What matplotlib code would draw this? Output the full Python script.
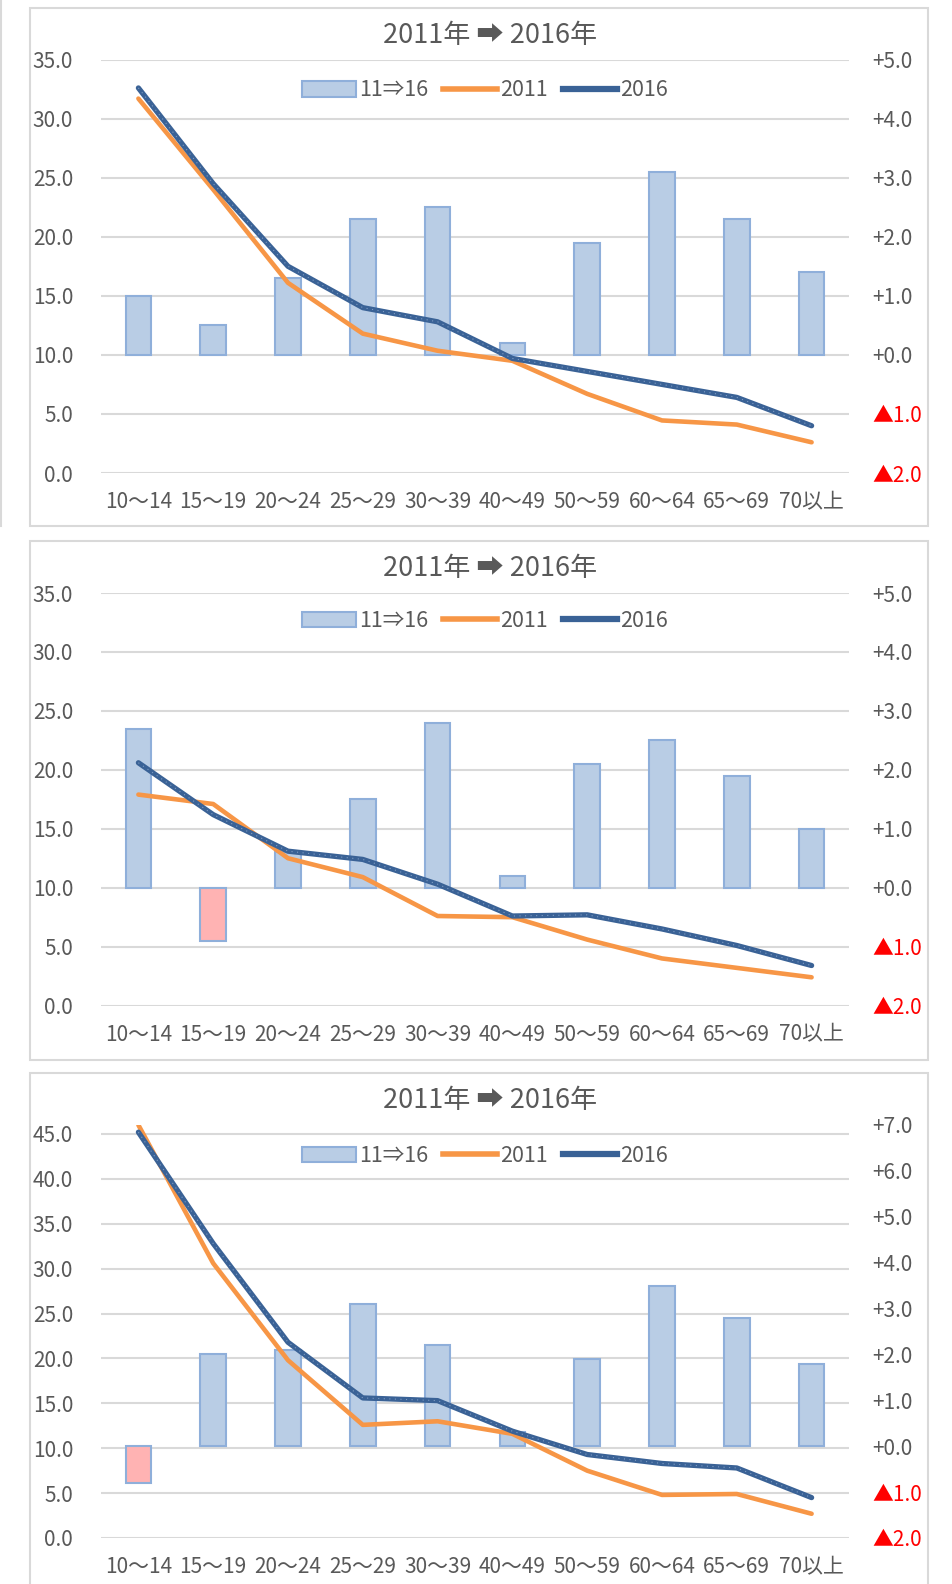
import numpy as np
import matplotlib
matplotlib.use('Agg')
import matplotlib.pyplot as plt
from matplotlib.lines import Line2D
from matplotlib.patches import Rectangle

plt.rcParams['font.family'] = ['Noto Sans CJK JP', 'DejaVu Sans']

W, H = 953, 1584

ages = ['10〜14', '15〜19', '20〜24', '25〜29', '30〜39', '40〜49', '50〜59', '60〜64', '65〜69', '70以上']

# panel 1
p1_2011 = [31.7, 24.0, 16.1, 11.8, 10.35, 9.5, 6.7, 4.45, 4.1, 2.6]
p1_2016 = [32.6, 24.5, 17.5, 14.0, 12.8, 9.7, 8.6, 7.5, 6.4, 4.0]
p1_diff = [1.0, 0.5, 1.3, 2.3, 2.5, 0.2, 1.9, 3.1, 2.3, 1.4]

# panel 2
p2_2011 = [17.9, 17.1, 12.5, 10.9, 7.6, 7.5, 5.6, 4.0, 3.2, 2.4]
p2_2016 = [20.6, 16.2, 13.1, 12.4, 10.3, 7.6, 7.7, 6.5, 5.1, 3.4]
p2_diff = [2.7, -0.9, 0.6, 1.5, 2.8, 0.2, 2.1, 2.5, 1.9, 1.0]

# panel 3
p3_2011 = [46.0, 30.6, 19.8, 12.6, 13.0, 11.6, 7.5, 4.8, 4.9, 2.7]
p3_2016 = [45.2, 32.8, 21.8, 15.6, 15.3, 11.9, 9.3, 8.3, 7.8, 4.5]
p3_diff = [-0.8, 2.0, 2.1, 3.1, 2.2, 0.3, 1.9, 3.5, 2.8, 1.8]

title = '2011年 ➡ 2016年'
txt = '#595959'
grid = '#D9D9D9'
c_bar = '#B9CDE5'
c_neg = '#FFB3B3'
c_edge = '#8FAFDA'
c_2011 = '#F79646'
c_2016 = '#3A6296'


def px_axes(fig, x0, y0, x1, y1):
    return fig.add_axes([x0 / W, 1 - y1 / H, (x1 - x0) / W, (y1 - y0) / H])


def right_fmt(v):
    if v < 0:
        return '▲%.1f' % (-v)
    return '+%.1f' % v


def panel(fig, box, plot, title_y, leg_y, s11, s16, diff, lmax, lticks, rlim):
    bx0, by0, bx1, by1 = box
    fig.patches.append(Rectangle((bx0 / W, 1 - by1 / H), (bx1 - bx0) / W, (by1 - by0) / H,
                                 transform=fig.transFigure, fill=False,
                                 edgecolor=grid, linewidth=1.5))
    x0, y0, x1, y1 = plot
    ax = px_axes(fig, x0, y0, x1, y1)
    x = np.arange(len(ages))
    ax.set_xlim(-0.5, len(ages) - 0.5)
    ax.set_ylim(0, lmax)
    ax.set_yticks(lticks)
    ax.set_yticklabels(['%.1f' % v for v in lticks])
    ax.yaxis.grid(True, color=grid, linewidth=1.5)
    ax.set_axisbelow(True)
    ax.set_xticks(x)
    ax.set_xticklabels(ages)
    ax.tick_params(axis='y', length=0, pad=20, labelsize=15, labelcolor=txt)
    ax.tick_params(axis='x', length=0, pad=13, labelsize=15, labelcolor=txt)
    for s in ax.spines.values():
        s.set_visible(False)

    axb = ax.twinx()
    axb.set_ylim(*rlim)
    rt = np.arange(rlim[0], rlim[1] + 0.5, 1.0)
    axb.set_yticks(rt)
    axb.set_yticklabels([right_fmt(v) for v in rt])
    axb.tick_params(axis='y', length=0, pad=17, labelsize=15, labelcolor=txt)
    for lab, v in zip(axb.get_yticklabels(), rt):
        if v < 0:
            lab.set_color('#FF0000')
    for s in axb.spines.values():
        s.set_visible(False)
    cols = [c_bar if d >= 0 else c_neg for d in diff]
    axb.bar(x, diff, width=0.34, color=cols, edgecolor=c_edge, linewidth=1.5)

    axl = ax.twinx()
    axl.set_ylim(0, lmax)
    axl.set_yticks([])
    for s in axl.spines.values():
        s.set_visible(False)
    axl.plot(x, s11, color=c_2011, linewidth=3.3, solid_capstyle='round', solid_joinstyle='round')
    axl.plot(x, s16, color=c_2016, linewidth=3.8, solid_capstyle='round', solid_joinstyle='round')
    axl.plot(x, s16, color='#7F9CC4', linewidth=0.8, linestyle=(0, (1, 4)))

    fig.text(490 / W, 1 - title_y / H, title, ha='center', va='center',
             fontsize=19.5, color=txt)

    handles = [Rectangle((0, 0), 1, 1, facecolor=c_bar, edgecolor=c_edge, linewidth=1.5),
               Line2D([], [], color=c_2011, linewidth=4),
               Line2D([], [], color=c_2016, linewidth=4.5)]
    fig.legend(handles, ['11⇒16', '2011', '2016'], loc='center',
               bbox_to_anchor=(485 / W, 1 - leg_y / H), ncol=3, frameon=False,
               fontsize=15.5, labelcolor=txt, handlelength=2.5, handleheight=0.75,
               handletextpad=0.15, columnspacing=0.7)


fig = plt.figure(figsize=(W / 100, H / 100), dpi=100)
fig.patch.set_facecolor('white')

# stray edge of neighbouring panel at the left margin
fig.add_artist(Line2D([1.5 / W, 1.5 / W], [1 - 526 / H, 1.0], transform=fig.transFigure,
                      color=grid, linewidth=1.5))

panel(fig, (30, 8, 928, 526), (101, 59.6, 849, 473), 35.5, 90.5,
      p1_2011, p1_2016, p1_diff, 35, np.arange(0, 35.1, 5), (-2, 5))
panel(fig, (30, 541, 928, 1060), (101, 593, 849, 1005.6), 569, 621,
      p2_2011, p2_2016, p2_diff, 35, np.arange(0, 35.1, 5), (-2, 5))
panel(fig, (30, 1073, 928, 1600), (101, 1125, 849, 1538), 1101, 1156,
      p3_2011, p3_2016, p3_diff, 46, np.arange(0, 45.1, 5), (-2, 7))

fig.savefig('out.png', dpi=100)
